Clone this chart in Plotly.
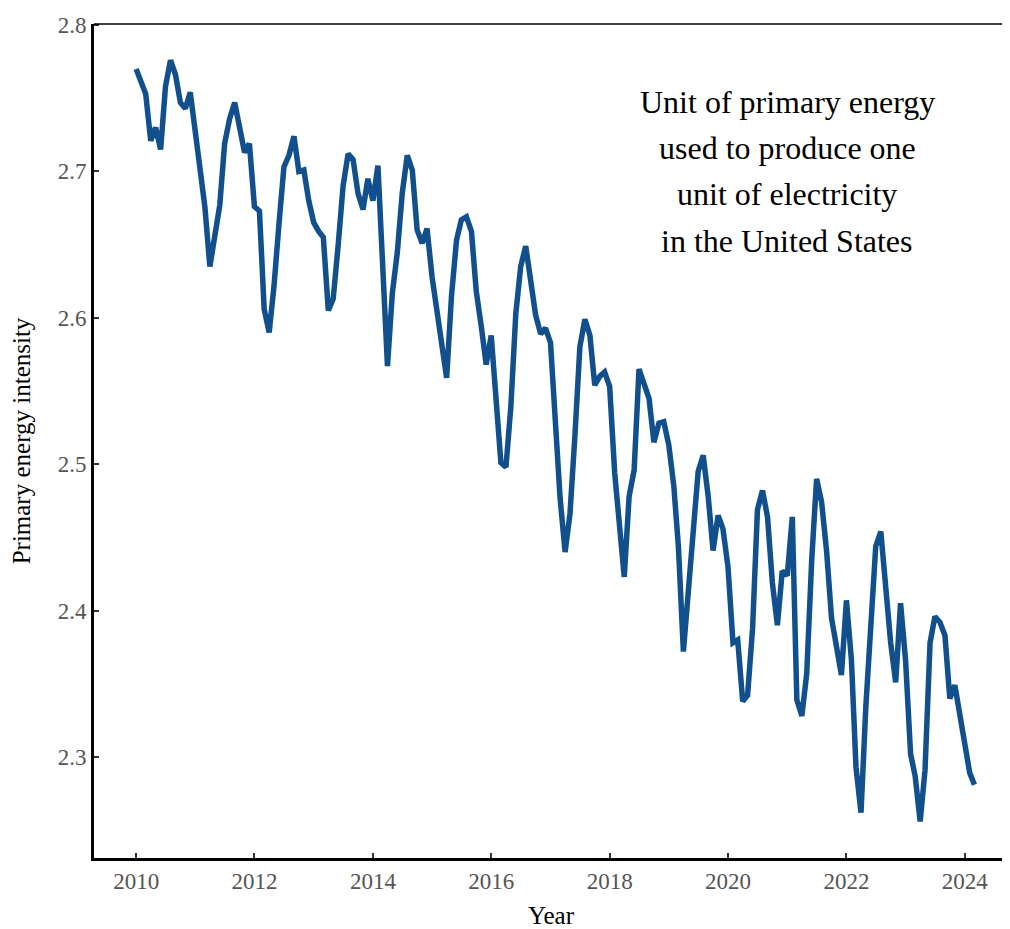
import plotly.graph_objects as go

years = list(range(2010, 2025))
# Monthly primary energy intensity, Jan 2010 .. Mar 2024
v2010 = [2.770, 2.761, 2.753, 2.721, 2.730, 2.715, 2.758, 2.776, 2.766, 2.747, 2.743, 2.754]
v2011 = [2.726, 2.703, 2.676, 2.635, 2.655, 2.677, 2.719, 2.736, 2.747, 2.731, 2.713, 2.719]
v2012 = [2.676, 2.673, 2.606, 2.590, 2.622, 2.665, 2.703, 2.711, 2.724, 2.700, 2.701, 2.680]
v2013 = [2.665, 2.659, 2.655, 2.605, 2.613, 2.650, 2.690, 2.712, 2.708, 2.685, 2.674, 2.695]
v2014 = [2.680, 2.704, 2.630, 2.567, 2.617, 2.645, 2.685, 2.711, 2.701, 2.660, 2.651, 2.661]
v2015 = [2.628, 2.605, 2.583, 2.559, 2.615, 2.653, 2.667, 2.669, 2.659, 2.618, 2.594, 2.568]
v2016 = [2.588, 2.545, 2.501, 2.498, 2.539, 2.603, 2.635, 2.649, 2.622, 2.602, 2.589, 2.593]
v2017 = [2.583, 2.525, 2.477, 2.440, 2.466, 2.520, 2.580, 2.599, 2.588, 2.554, 2.560, 2.563]
v2018 = [2.553, 2.494, 2.460, 2.423, 2.478, 2.496, 2.565, 2.556, 2.545, 2.515, 2.528, 2.529]
v2019 = [2.513, 2.485, 2.444, 2.372, 2.410, 2.455, 2.495, 2.506, 2.478, 2.441, 2.465, 2.456]
v2020 = [2.430, 2.378, 2.380, 2.338, 2.342, 2.388, 2.469, 2.482, 2.464, 2.419, 2.390, 2.427]
v2021 = [2.424, 2.464, 2.339, 2.328, 2.357, 2.435, 2.490, 2.474, 2.440, 2.395, 2.376, 2.356]
v2022 = [2.407, 2.366, 2.293, 2.262, 2.335, 2.395, 2.444, 2.454, 2.410, 2.378, 2.351, 2.405]
v2023 = [2.366, 2.302, 2.287, 2.256, 2.291, 2.378, 2.396, 2.392, 2.383, 2.340, 2.349, 2.328]
v2024 = [2.305, 2.289, 2.281]

yearly = [v2010, v2011, v2012, v2013, v2014, v2015, v2016, v2017,
          v2018, v2019, v2020, v2021, v2022, v2023, v2024]

dates, values = [], []
for yr, vals in zip(years, yearly):
    for m, v in enumerate(vals, start=1):
        dates.append(f"{yr}-{m:02d}-01")
        values.append(v)

tick_years = ["2010", "2012", "2014", "2016", "2018", "2020", "2022", "2024"]
y_ticks = [2.3, 2.4, 2.5, 2.6, 2.7, 2.8]
note_lines = ["Unit of primary energy", "used to produce one",
              "unit of electricity", "in the United States"]

FONT = "Liberation Serif"

# page body has an 8px margin; plot area target: x 94..1008, y 24..858
W, H = 1002, 921
ML, MR, MT, MB = 86, 2, 16, 71
plot_h = H - MT - MB

fig = go.Figure()
fig.add_trace(go.Scatter(
    x=dates, y=values, mode="lines",
    line=dict(color="rgb(17,80,140)", width=5.5),
    showlegend=False,
))

note_centers = [102, 148, 194, 241]  # page px
annotations = []
for txt, yc in zip(note_lines, note_centers):
    annotations.append(dict(
        xref="paper", yref="paper",
        x=(787 - 94) / 914, y=1 - (yc - 24) / plot_h,
        xanchor="center", yanchor="middle",
        text=txt, showarrow=False,
        font=dict(family=FONT, size=32, color="black"),
    ))

fig.update_layout(
    width=W, height=H,
    margin=dict(l=ML, r=MR, t=MT, b=MB),
    paper_bgcolor="white", plot_bgcolor="white",
    font=dict(family=FONT, color="black"),
    xaxis=dict(
        type="date",
        range=["2009-04-16", "2024-09-24"],
        tickvals=[f"{y}-01-01" for y in tick_years],
        ticktext=tick_years,
        showgrid=False, zeroline=False,
        showline=True, linecolor="black", linewidth=3,
        ticks="inside", ticklen=5, tickwidth=2, tickcolor="#333",
        tickfont=dict(family=FONT, size=23, color="#555"),
        title=dict(text="Year", font=dict(family=FONT, size=25, color="black"), standoff=16),
    ),
    yaxis=dict(
        range=[2.231, 2.8007],
        tickvals=y_ticks,
        ticktext=[f"{t:.1f}" for t in y_ticks],
        showgrid=False, zeroline=False,
        showline=True, linecolor="black", linewidth=3,
        ticks="inside", ticklen=5, tickwidth=2, tickcolor="#333",
        tickfont=dict(family=FONT, size=23, color="#555"),
        title=dict(text="Primary energy intensity", font=dict(family=FONT, size=25, color="black"), standoff=24),
    ),
    shapes=[dict(type="line", xref="paper", yref="paper", x0=0, x1=1, y0=1, y1=1,
                 line=dict(color="black", width=1.5))],
    annotations=annotations,
)

fig.write_html("out.html")
